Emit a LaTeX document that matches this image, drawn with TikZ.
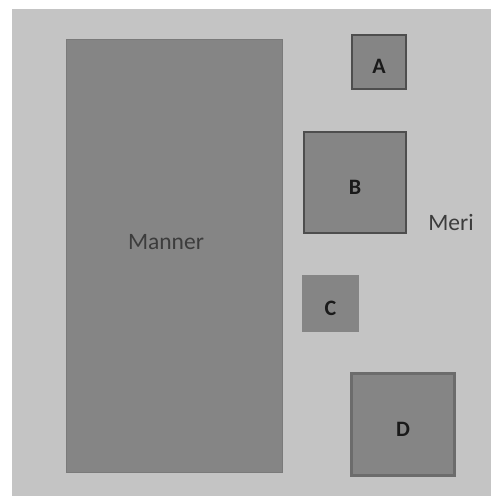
\documentclass[tikz,border=0pt]{standalone}
\usepackage{fontspec}
\setmainfont{Carlito}
\definecolor{bggray}{HTML}{C4C4C4}
\definecolor{boxgray}{HTML}{858585}
\definecolor{darkedge}{HTML}{4E4E4E}
\definecolor{midedge}{HTML}{6C6C6C}
\definecolor{txt}{HTML}{1A1A1A}
\begin{document}
\begin{tikzpicture}[x=1pt,y=-1pt,
  box/.style={fill=boxgray,inner sep=0pt},
  ltr/.style={inner sep=0pt,font=\bfseries\fontsize{22}{22}\selectfont,text=txt},
  lbl/.style={font=\fontsize{23.5}{23.5}\selectfont,text=txt!85!white}]
\useasboundingbox (0,0) rectangle (492,496);
\fill[white] (0,0) rectangle (492,496);
\fill[bggray] (12,9) rectangle (491,496);
\fill[boxgray,draw=boxgray!92!black,line width=0.8pt] (66,39) rectangle (282,472);
\node[lbl] (manner) at (166,242) {Manner};
\node[box,draw=darkedge,line width=2.2pt,minimum width=54pt,minimum height=54pt] (A) at (379,62) {};
\node[box,draw=darkedge,line width=2.2pt,minimum width=102pt,minimum height=101pt] (B) at (355,182.5) {};
\node[box,minimum width=57pt,minimum height=57pt] (C) at (330.5,303.5) {};
\node[box,draw=midedge,line width=2.8pt,minimum width=103pt,minimum height=102pt] (D) at (403,424.5) {};
\node[ltr] (At) at ([yshift=-4pt]A.center) {A};
\node[ltr] (Bt) at ([yshift=-5pt]B.center) {B};
\node[ltr] (Ct) at ([yshift=-4.5pt]C.center) {C};
\node[ltr] (Dt) at ([yshift=-5pt]D.center) {D};
\node[lbl] (meri) at (451,222) {Meri};
\end{tikzpicture}
\end{document}
